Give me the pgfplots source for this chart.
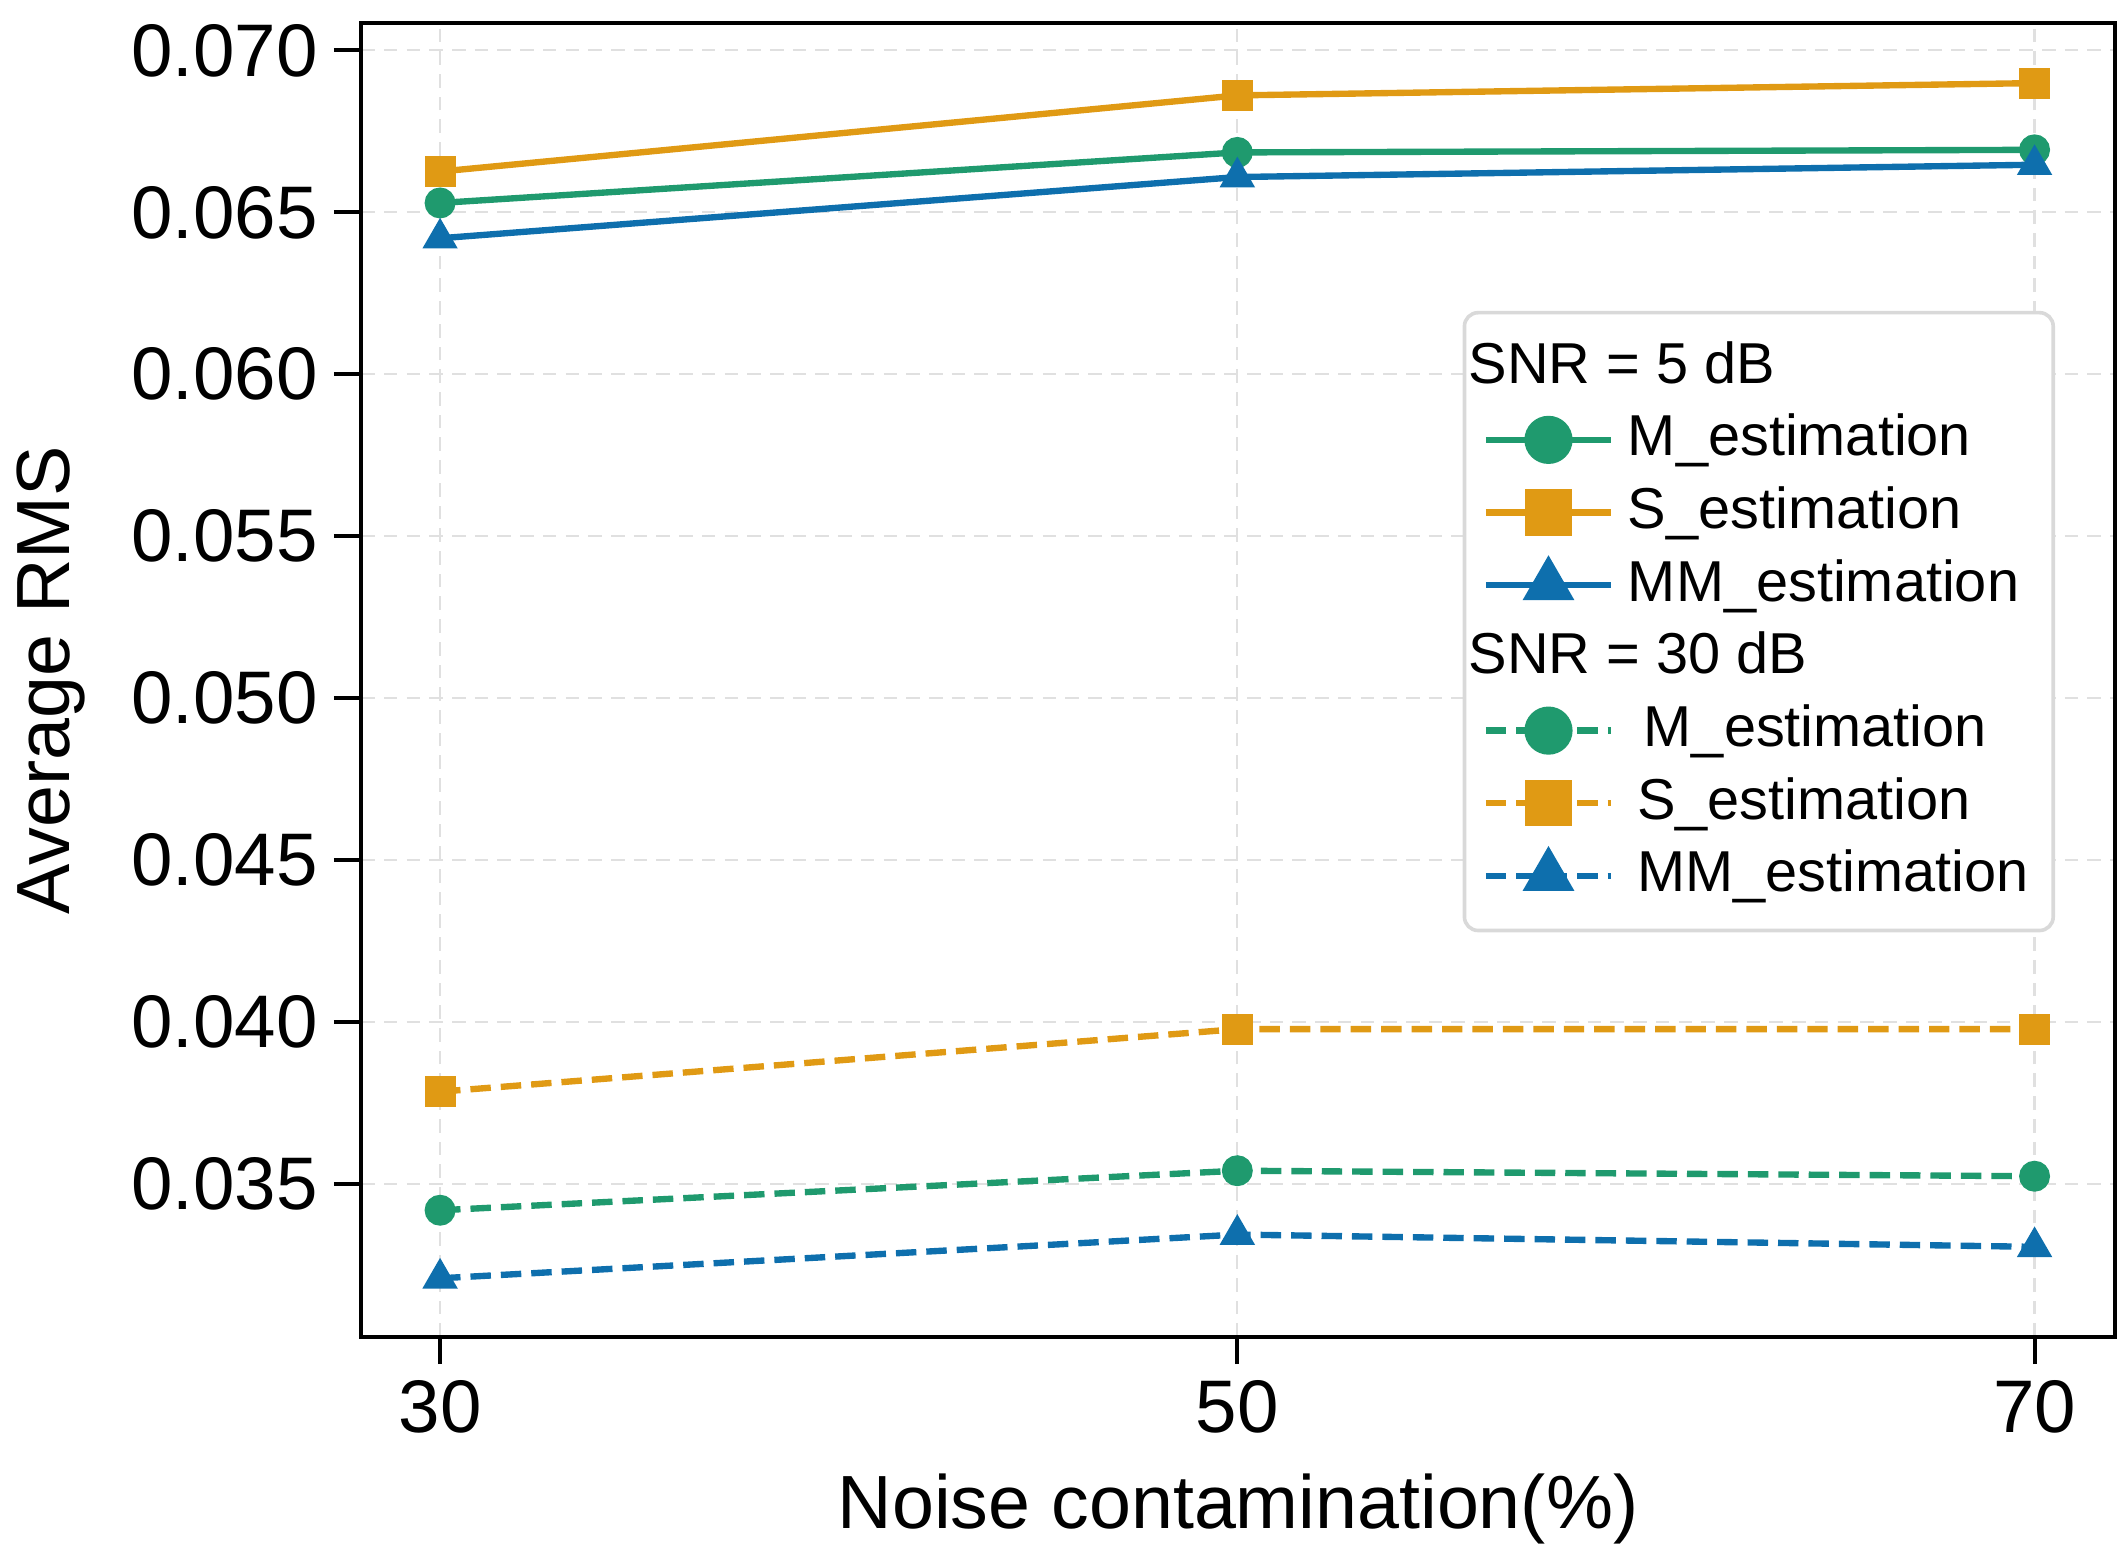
\documentclass[border=0pt]{standalone}
\usepackage{fontspec}
\setmainfont{Liberation Sans}
\usepackage{pgfplots}
\pgfplotsset{compat=1.18}
\definecolor{cgreen}{HTML}{1F9A6E}
\definecolor{corange}{HTML}{E09A14}
\definecolor{cblue}{HTML}{0E6FAD}
\pgfplotstableread{
x SM SS SMM DM DS DMM
30 0.06529 0.06626 0.06420 0.03420 0.03786 0.03210
50 0.06685 0.06861 0.06609 0.03542 0.03979 0.03345
70 0.06693 0.06899 0.06647 0.03525 0.03979 0.03307
}\datatable
\begin{document}
\begin{tikzpicture}
\useasboundingbox (0,0) rectangle (468pt,342.6pt);
\begin{axis}[
  at={(79.5pt,48.3pt)}, anchor=south west,
  scale only axis, width=386.1pt, height=289.2pt,
  xmin=28.02, xmax=72.02, ymin=0.03029, ymax=0.07084,
  xtick={30,50,70},
  ytick={0.035,0.040,0.045,0.050,0.055,0.060,0.065,0.070},
  scaled y ticks=false,
  yticklabel style={/pgf/number format/.cd, fixed, fixed zerofill, precision=3, assume math mode=true},
  xticklabel style={/pgf/number format/assume math mode=true},
  tick label style={font=\fontsize{16.4}{19}\selectfont},
  label style={font=\fontsize{16.6}{20}\selectfont},
  xlabel={Noise contamination(\%)},
  ylabel={Average RMS},
  xlabel style={at={(axis description cs:0.5,-0.146)}, anchor=base},
  ylabel style={at={(axis description cs:-0.177,0.5)}, anchor=center},
  tick align=outside, xtick pos=bottom, ytick pos=left,
  major tick length=6pt,
  every tick/.style={black, line width=0.9pt},
  axis line style={line width=0.9pt},
  grid=major,
  major grid style={black!12, dash pattern=on 3pt off 2pt, line width=0.5pt},
  legend image code/.code={\draw[mark repeat=2,mark phase=2,#1] plot coordinates {(0pt,0pt) (13.8pt,0pt) (27.6pt,0pt)};},
  legend cell align=left,
  legend style={at={(0.628,0.781)}, anchor=north west, draw=black!15, rounded corners=3pt,
    line width=0.8pt, fill=white, font=\fontsize{12.7}{15}\selectfont,
    inner xsep=4pt, inner ysep=4pt, row sep=0pt,
    nodes={inner sep=1.5pt, text height=10pt, text depth=3pt}},
]
\addplot[forget plot, cgreen, line width=1.4pt, mark=*, mark size=2.7pt] table[x=x,y=SM]{\datatable};
\addplot[forget plot, corange, line width=1.4pt, mark=square*, mark size=2.7pt] table[x=x,y=SS]{\datatable};
\addplot[forget plot, cblue, line width=1.4pt, mark=triangle*, mark size=3.1pt] table[x=x,y=SMM]{\datatable};
\addplot[forget plot, cgreen, line width=1.4pt, dash pattern=on 4.5pt off 2.2pt, mark=*, mark size=2.7pt, mark options={solid}] table[x=x,y=DM]{\datatable};
\addplot[forget plot, corange, line width=1.4pt, dash pattern=on 4.5pt off 2.2pt, mark=square*, mark size=2.7pt, mark options={solid}] table[x=x,y=DS]{\datatable};
\addplot[forget plot, cblue, line width=1.4pt, dash pattern=on 4.5pt off 2.2pt, mark=triangle*, mark size=3.1pt, mark options={solid}] table[x=x,y=DMM]{\datatable};

\addlegendimage{empty legend}
\addlegendentry{\hspace{-33.6pt}SNR = 5 dB}
\addlegendimage{cgreen, line width=1.4pt, mark=*, mark size=4.6pt}
\addlegendentry{\hspace{1.5pt}M\_estimation}
\addlegendimage{corange, line width=1.4pt, mark=square*, mark size=4.4pt}
\addlegendentry{\hspace{1.5pt}S\_estimation}
\addlegendimage{cblue, line width=1.4pt, mark=triangle*, mark size=5.2pt}
\addlegendentry{\hspace{1.5pt}MM\_estimation}
\addlegendimage{empty legend}
\addlegendentry{\hspace{-33.6pt}SNR = 30 dB}
\addlegendimage{cgreen, line width=1.4pt, dash pattern=on 4.5pt off 2.2pt, mark=*, mark size=4.6pt, mark options={solid}}
\addlegendentry{\hspace{5pt}M\_estimation}
\addlegendimage{corange, line width=1.4pt, dash pattern=on 4.5pt off 2.2pt, mark=square*, mark size=4.4pt, mark options={solid}}
\addlegendentry{\hspace{3.5pt}S\_estimation}
\addlegendimage{cblue, line width=1.4pt, dash pattern=on 4.5pt off 2.2pt, mark=triangle*, mark size=5.2pt, mark options={solid}}
\addlegendentry{\hspace{3.5pt}MM\_estimation}
\end{axis}
\end{tikzpicture}
\end{document}
